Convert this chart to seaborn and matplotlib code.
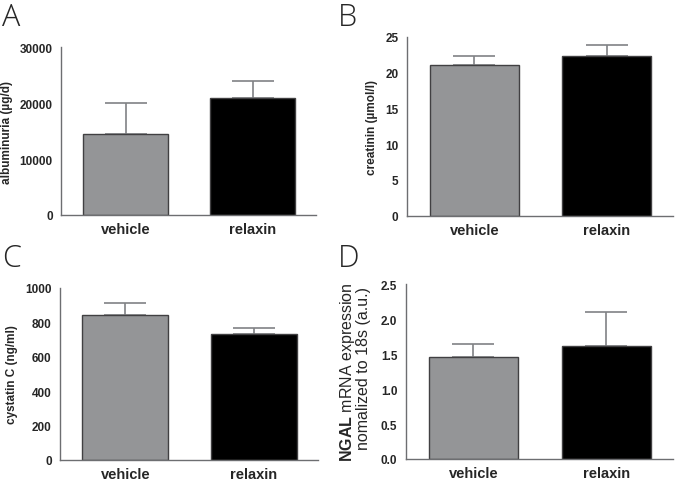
import numpy as np
import pandas as pd
import matplotlib
matplotlib.use('Agg')
import matplotlib.pyplot as plt
import seaborn as sns

# Data (mean and upper SEM)
groups = ['vehicle', 'relaxin']
albuminuria = [14500, 20850]
albuminuria_err = [5550, 3100]
creatinin = [21.0, 22.25]
creatinin_err = [1.35, 1.55]
cystatin = [845, 733]
cystatin_err = [68, 34]
ngal = [1.46, 1.62]
ngal_err = [0.19, 0.48]

sns.set_theme(style='white')
plt.rcParams['font.family'] = ['Liberation Sans', 'DejaVu Sans']
plt.rcParams['mathtext.fontset'] = 'custom'
plt.rcParams['mathtext.rm'] = 'Liberation Sans'
plt.rcParams['mathtext.bf'] = 'Liberation Sans:bold'

bar_colors = ['#939598', '#000000']
axis_col = '#6d6e71'

fig = plt.figure(figsize=(6.75, 4.81), dpi=100)

panels = [
    ('A', [0.0904, 0.551, 0.378, 0.349], albuminuria, albuminuria_err,
     (0, 30000), np.arange(0, 30001, 10000), 'albuminuria (µg/d)', '{:.0f}'),
    ('B', [0.6025, 0.5495, 0.3945, 0.372], creatinin, creatinin_err,
     (0, 25), np.arange(0, 26, 5), 'creatinin (µmol/l)', '{:.0f}'),
    ('C', [0.0889, 0.0416, 0.382, 0.3576], cystatin, cystatin_err,
     (0, 1000), np.arange(0, 1001, 200), 'cystatin C (ng/ml)', '{:.0f}'),
    ('D', [0.601, 0.0437, 0.396, 0.363], ngal, ngal_err,
     (0, 2.5), np.arange(0, 2.51, 0.5), None, '{:.1f}'),
]

for letter, rect, vals, errs, ylim, yticks, ylabel, fmt in panels:
    ax = fig.add_axes(rect)
    df = pd.DataFrame({'group': groups, 'value': vals})
    sns.barplot(data=df, x='group', y='value', hue='group', palette=bar_colors,
                legend=False, width=0.67, edgecolor='#414042', linewidth=1.0,
                errorbar=None, ax=ax, zorder=2)
    ax.errorbar(range(len(groups)), vals, yerr=[np.zeros(len(errs)), errs],
                fmt='none', ecolor='#808285', elinewidth=1.2, capsize=15,
                capthick=1.2, zorder=1)
    ax.set_xlim(-0.51, 1.5)
    ax.set_ylim(*ylim)
    ax.set_yticks(yticks)
    ax.set_yticklabels([fmt.format(t) for t in yticks], fontweight='bold', fontsize=8.5)
    ax.set_xticks(range(len(groups)))
    ax.set_xticklabels(groups, fontweight='bold', fontsize=10.5)
    ax.set_xlabel('')
    if ylabel:
        ax.set_ylabel(ylabel, fontweight='bold', fontsize=8.5, labelpad=5)
    else:
        ax.set_ylabel('')
    sns.despine(ax=ax)
    for side in ['left', 'bottom']:
        ax.spines[side].set_color(axis_col)
        ax.spines[side].set_linewidth(1.0)
    ax.tick_params(axis='y', direction='out', length=4, width=1, color=axis_col, pad=2)
    ax.tick_params(axis='x', direction='out', length=3, width=1, color=axis_col, pad=2)

# Panel D two-line y label
fig.text(347 / 675, 1 - 372 / 481, r'$\bf{NGAL}$ mRNA expression', rotation=90,
         ha='center', va='center', fontsize=11.5)
fig.text(364 / 675, 1 - 369 / 481, 'nomalized to 18s (a.u.)', rotation=90,
         ha='center', va='center', fontsize=11.5)

# Panel letters
for letter, x, y in [('A', 2, 2), ('B', 338, 2), ('C', 2, 243), ('D', 338, 243)]:
    fig.text(x / 675, 1 - y / 481, letter, ha='left', va='top', fontsize=22,
             family=['Open Sans', 'DejaVu Sans'], fontweight='light')

fig.savefig('out.png', dpi=100)
